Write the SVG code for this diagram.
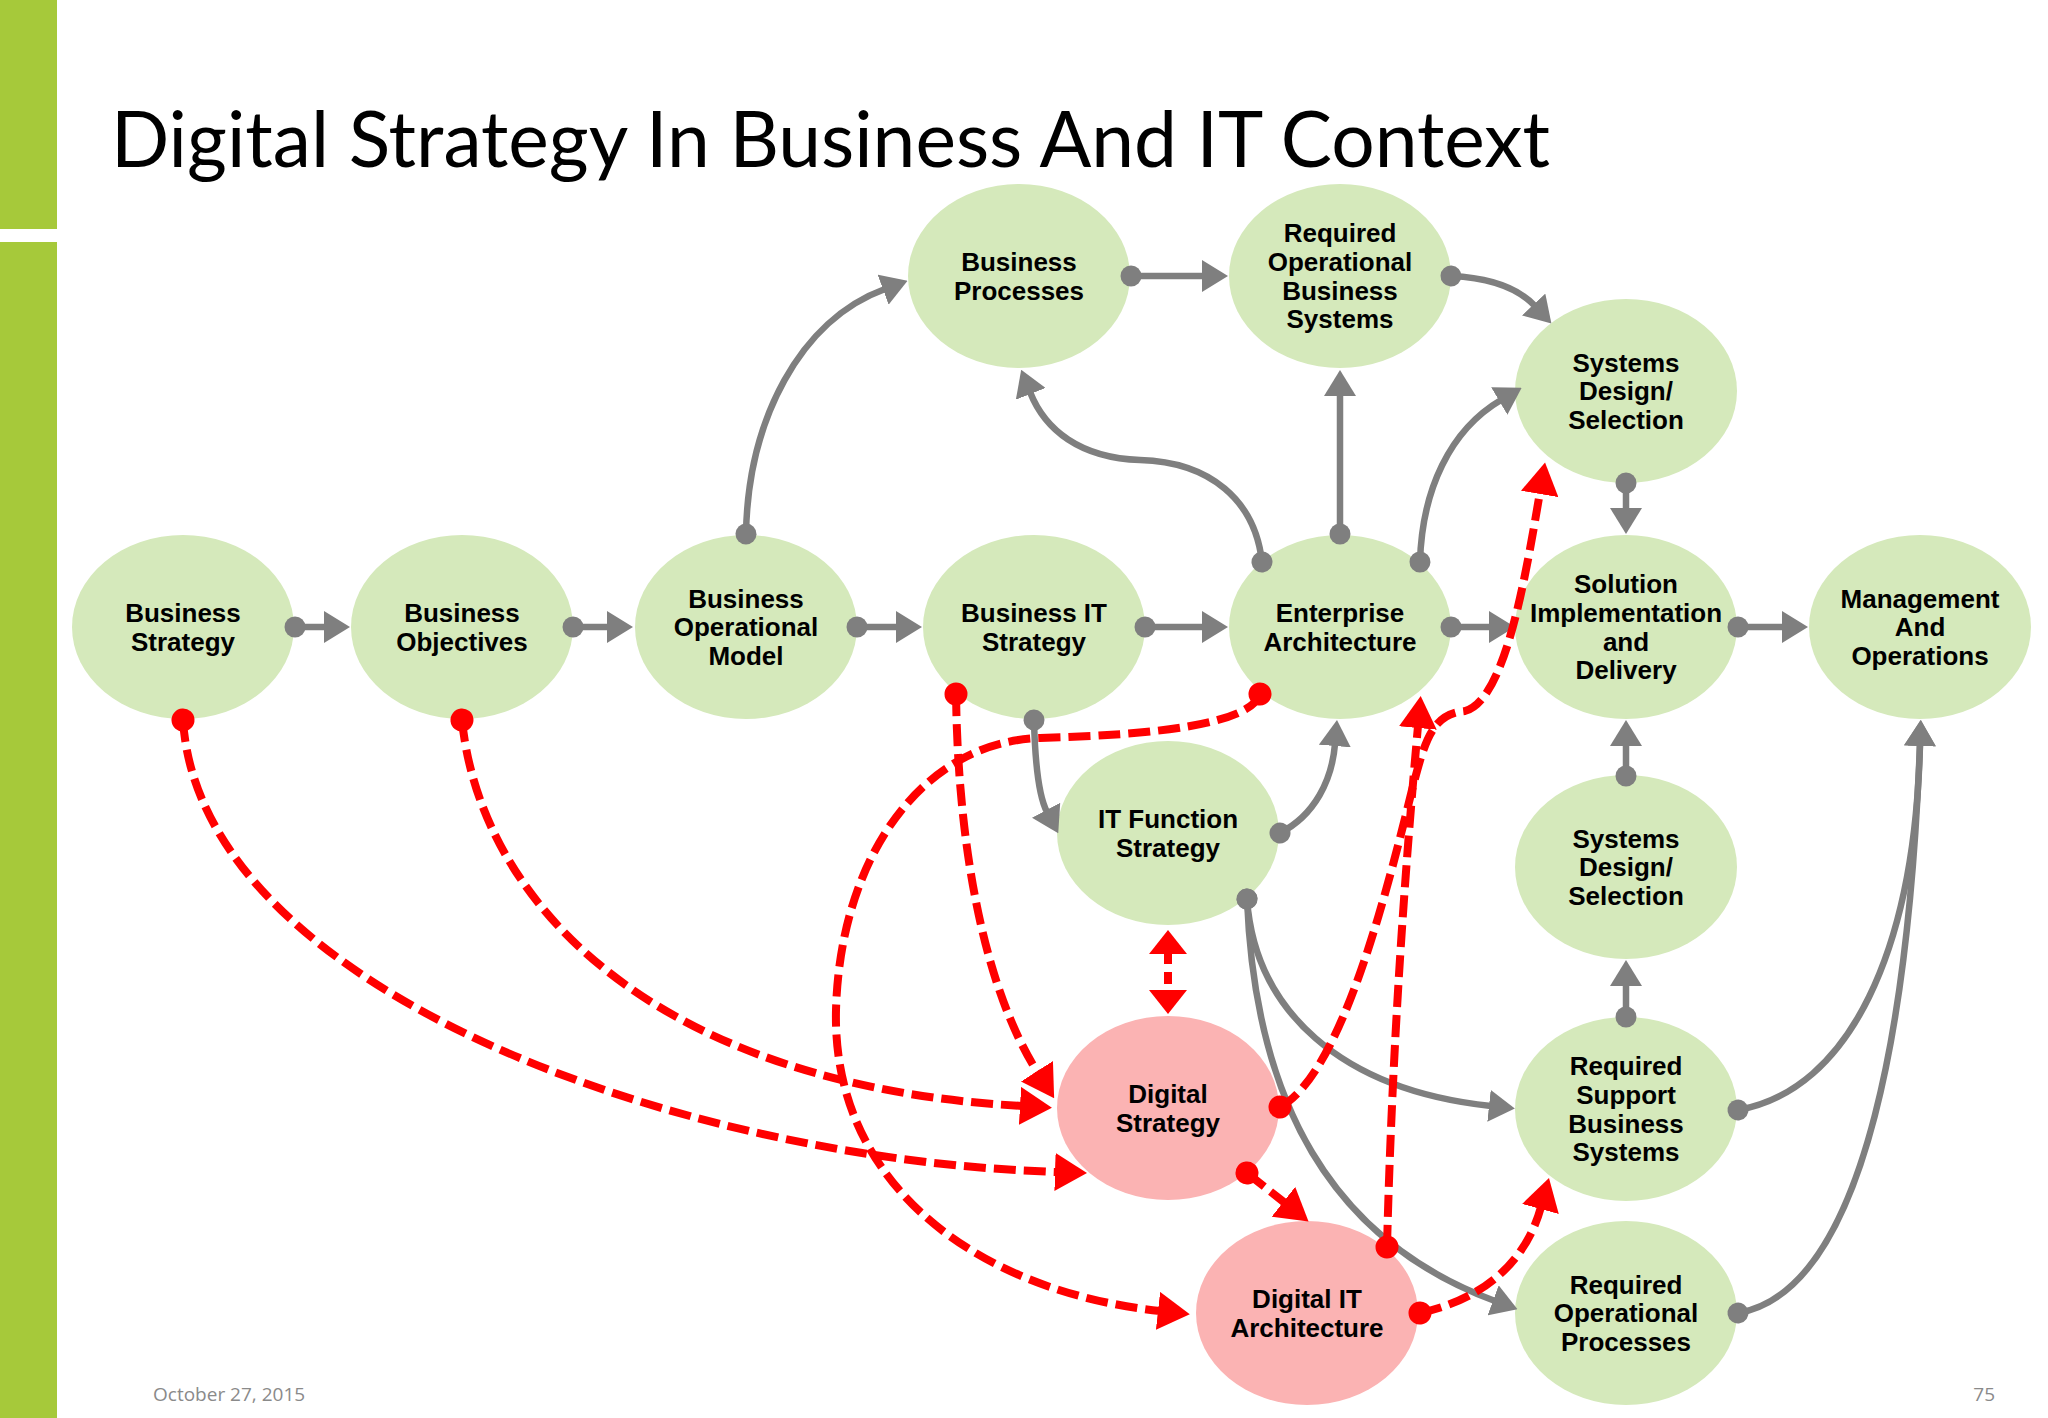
<svg xmlns="http://www.w3.org/2000/svg" width="2048" height="1418" viewBox="0 0 2048 1418">
<style>
.n{fill:#d5e9bb}
.p{fill:#fbb3b3}
.t{font-family:"Liberation Sans",Arial,sans-serif;font-weight:bold;font-size:26px;fill:#000;text-anchor:middle}
.g{fill:none;stroke:#7f7f7f;stroke-width:6.5;marker-start:url(#gd);marker-end:url(#ga)}
.r{fill:none;stroke:#ff0000;stroke-width:8;stroke-dasharray:22 8;marker-start:url(#rd);marker-end:url(#ra)}
</style>
<defs>
<marker id="ga" viewBox="0 0 26 32" markerUnits="userSpaceOnUse" markerWidth="26" markerHeight="32" refX="2" refY="16" orient="auto"><path d="M0,0 L26,16 L0,32Z" fill="#7f7f7f"/></marker>
<marker id="gd" viewBox="0 0 22 22" markerUnits="userSpaceOnUse" markerWidth="22" markerHeight="22" refX="11" refY="11" orient="auto"><circle cx="11" cy="11" r="10.5" fill="#7f7f7f"/></marker>
<marker id="ra" viewBox="0 0 32 38" markerUnits="userSpaceOnUse" markerWidth="32" markerHeight="38" refX="2" refY="19" orient="auto"><path d="M0,0 L32,19 L0,38Z" fill="#ff0000"/></marker>
<marker id="rd" viewBox="0 0 24 24" markerUnits="userSpaceOnUse" markerWidth="24" markerHeight="24" refX="12" refY="12" orient="auto"><circle cx="12" cy="12" r="11.5" fill="#ff0000"/></marker>
<marker id="rs" viewBox="0 0 24 38" markerUnits="userSpaceOnUse" markerWidth="24" markerHeight="38" refX="2" refY="19" orient="auto-start-reverse"><path d="M0,0 L24,19 L0,38Z" fill="#ff0000"/></marker>
</defs>
<rect x="0" y="0" width="2048" height="1418" fill="#ffffff"/>
<rect x="0" y="0" width="57" height="229" fill="#a6c93a"/>
<rect x="0" y="242" width="57" height="1176" fill="#a6c93a"/>
<text x="111" y="167" font-family="Lato, 'Open Sans', sans-serif" font-size="78" textLength="1439" lengthAdjust="spacingAndGlyphs" fill="#000">Digital Strategy In Business And IT Context</text>
<text x="153" y="1401" font-family="'Open Sans', 'Liberation Sans', sans-serif" font-size="19" fill="#8a8a8a">October 27, 2015</text>
<text x="1995" y="1401" font-family="'Open Sans', 'Liberation Sans', sans-serif" font-size="19" fill="#8a8a8a" text-anchor="end">75</text>

<g id="n-business-strategy"><ellipse class="n" cx="183" cy="627" rx="111" ry="92"/><text class="t"><tspan x="183" y="622">Business</tspan><tspan x="183" y="651">Strategy</tspan></text></g>
<g id="n-business-objectives"><ellipse class="n" cx="462" cy="627" rx="111" ry="92"/><text class="t"><tspan x="462" y="622">Business</tspan><tspan x="462" y="651">Objectives</tspan></text></g>
<g id="n-business-operational-model"><ellipse class="n" cx="746" cy="627" rx="111" ry="92"/><text class="t"><tspan x="746" y="608">Business</tspan><tspan x="746" y="636">Operational</tspan><tspan x="746" y="665">Model</tspan></text></g>
<g id="n-business-it-strategy"><ellipse class="n" cx="1034" cy="627" rx="111" ry="92"/><text class="t"><tspan x="1034" y="622">Business IT</tspan><tspan x="1034" y="651">Strategy</tspan></text></g>
<g id="n-enterprise-architecture"><ellipse class="n" cx="1340" cy="627" rx="111" ry="92"/><text class="t"><tspan x="1340" y="622">Enterprise</tspan><tspan x="1340" y="651">Architecture</tspan></text></g>
<g id="n-solution-implementation"><ellipse class="n" cx="1626" cy="627" rx="111" ry="92"/><text class="t"><tspan x="1626" y="593">Solution</tspan><tspan x="1626" y="622">Implementation</tspan><tspan x="1626" y="651">and</tspan><tspan x="1626" y="679">Delivery</tspan></text></g>
<g id="n-management-operations"><ellipse class="n" cx="1920" cy="627" rx="111" ry="92"/><text class="t"><tspan x="1920" y="608">Management</tspan><tspan x="1920" y="636">And</tspan><tspan x="1920" y="665">Operations</tspan></text></g>
<g id="n-business-processes"><ellipse class="n" cx="1019" cy="276" rx="111" ry="92"/><text class="t"><tspan x="1019" y="271">Business</tspan><tspan x="1019" y="300">Processes</tspan></text></g>
<g id="n-required-operational-business-systems"><ellipse class="n" cx="1340" cy="276" rx="111" ry="92"/><text class="t"><tspan x="1340" y="242">Required</tspan><tspan x="1340" y="271">Operational</tspan><tspan x="1340" y="300">Business</tspan><tspan x="1340" y="328">Systems</tspan></text></g>
<g id="n-systems-design-top"><ellipse class="n" cx="1626" cy="391" rx="111" ry="92"/><text class="t"><tspan x="1626" y="372">Systems</tspan><tspan x="1626" y="400">Design/</tspan><tspan x="1626" y="429">Selection</tspan></text></g>
<g id="n-it-function-strategy"><ellipse class="n" cx="1168" cy="833" rx="111" ry="92"/><text class="t"><tspan x="1168" y="828">IT Function</tspan><tspan x="1168" y="857">Strategy</tspan></text></g>
<g id="n-systems-design-mid"><ellipse class="n" cx="1626" cy="867" rx="111" ry="92"/><text class="t"><tspan x="1626" y="848">Systems</tspan><tspan x="1626" y="876">Design/</tspan><tspan x="1626" y="905">Selection</tspan></text></g>
<g id="n-digital-strategy"><ellipse class="p" cx="1168" cy="1108" rx="111" ry="92"/><text class="t"><tspan x="1168" y="1103">Digital</tspan><tspan x="1168" y="1132">Strategy</tspan></text></g>
<g id="n-required-support-business-systems"><ellipse class="n" cx="1626" cy="1109" rx="111" ry="92"/><text class="t"><tspan x="1626" y="1075">Required</tspan><tspan x="1626" y="1104">Support</tspan><tspan x="1626" y="1133">Business</tspan><tspan x="1626" y="1161">Systems</tspan></text></g>
<g id="n-digital-it-architecture"><ellipse class="p" cx="1307" cy="1313" rx="111" ry="92"/><text class="t"><tspan x="1307" y="1308">Digital IT</tspan><tspan x="1307" y="1337">Architecture</tspan></text></g>
<g id="n-required-operational-processes"><ellipse class="n" cx="1626" cy="1313" rx="111" ry="92"/><text class="t"><tspan x="1626" y="1294">Required</tspan><tspan x="1626" y="1322">Operational</tspan><tspan x="1626" y="1351">Processes</tspan></text></g>

<g id="connectors">
<path class="g" d="M295,627 L326,627"/>
<path class="g" d="M573,627 L609,627"/>
<path class="g" d="M857,627 L898,627"/>
<path class="g" d="M1145,627 L1204,627"/>
<path class="g" d="M1451,627 L1491,627"/>
<path class="g" d="M1738,627 L1784,627"/>
<path class="g" d="M1131,276 L1204,276"/>
<path class="g" d="M1340,534 L1340,394"/>
<path class="g" d="M1626,483 L1626,510"/>
<path class="g" d="M1626,776 L1626,744"/>
<path class="g" d="M1626,1017 L1626,984"/>
<path class="g" d="M1451,276 C1495,278 1520,290 1535,306"/>
<path class="g" d="M746,534 C748,420 800,320 885,289"/>
<path class="g" d="M1262,562 C1255,500 1210,462 1140,460 C1080,458 1045,430 1030,392"/>
<path class="g" d="M1420,562 C1422,490 1450,430 1501,400"/>
<path class="g" d="M1034,720 C1035,760 1038,795 1047,812"/>
<path class="g" d="M1280,833 C1315,815 1332,780 1335,744"/>
<path class="g" d="M1247,899 C1255,1010 1340,1090 1491,1106"/>
<path class="g" d="M1247,899 C1255,1100 1330,1240 1495,1301"/>
<path class="g" d="M1738,1110 C1850,1090 1915,950 1920,744"/>
<path class="g" d="M1738,1313 C1870,1290 1910,1000 1920,744"/>

<path class="r" d="M183,720 C200,990 680,1160 1057,1172"/>
<path class="r" d="M462,720 C480,900 650,1085 1022,1106"/>
<path class="r" d="M956,694 C958,850 985,990 1038,1073"/>
<path class="r" d="M1260,694 C1250,725 1150,735 1040,738 C920,742 840,860 836,1010 C832,1180 970,1290 1160,1311"/>
<path class="r" d="M1280,1107 C1340,1075 1385,900 1412,790 C1425,740 1432,714 1465,711 C1505,700 1525,580 1540,492"/>
<path class="r" d="M1247,1173 L1285,1203"/>
<path class="r" d="M1387,1247 C1392,1050 1405,870 1418,726"/>
<path class="r" d="M1420,1313 C1480,1300 1525,1265 1541,1207"/>
<path d="M1168,952 L1168,992" fill="none" stroke="#ff0000" stroke-width="8" stroke-dasharray="12 8" marker-start="url(#rs)" marker-end="url(#rs)"/>
</g>
</svg>
